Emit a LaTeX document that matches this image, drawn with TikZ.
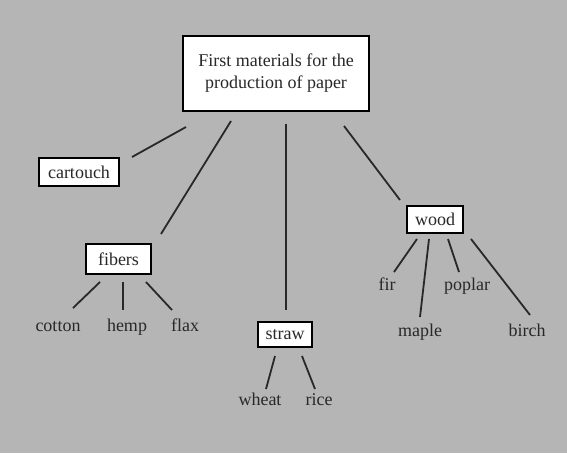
\documentclass[tikz,border=0pt]{standalone}
\usepackage{fontspec}
\setmainfont{Liberation Serif}
\definecolor{bg}{RGB}{181,181,181}
\definecolor{txt}{RGB}{40,40,40}
\begin{document}
\begin{tikzpicture}[x=1pt,y=-1pt,
  box/.style={draw=black, line width=1.8pt, fill=white, inner sep=0pt, align=center, text=txt, font=\fontsize{18}{22}\selectfont},
  lbl/.style={anchor=base, text=txt, inner sep=0pt, font=\fontsize{18}{22}\selectfont},
  conn/.style={line width=1.8pt, draw=txt}]
\fill[bg] (0,0) rectangle (567,453);
\useasboundingbox (0,0) rectangle (567,453);
% boxes
\node[box, minimum width=186pt, minimum height=75pt] (main) at (276,73.5) {First materials for the\\production of paper};
\node[box, minimum width=80pt, minimum height=28pt] (cartouch) at (79,172) {cartouch};
\node[box, minimum width=65pt, minimum height=30pt] (fibers) at (118.5,259) {fibers};
\node[box, minimum width=54pt, minimum height=25pt] (straw) at (285,334.5) {straw};
\node[box, minimum width=56pt, minimum height=27pt] (wood) at (435,219.5) {wood};
% leaf labels
\node[lbl] (cotton) at (58,331) {cotton};
\node[lbl] (hemp) at (127,331) {hemp};
\node[lbl] (flax) at (185,331) {flax};
\node[lbl] (wheat) at (260,405) {wheat};
\node[lbl] (rice) at (319,405) {rice};
\node[lbl] (fir) at (387,290) {fir};
\node[lbl] (poplar) at (467,290) {poplar};
\node[lbl] (maple) at (420,336) {maple};
\node[lbl] (birch) at (527,336) {birch};
% connector end points
\coordinate (mc) at (186,127); \coordinate (cm) at (132,157);
\coordinate (mf) at (231,121); \coordinate (fm) at (161,234);
\coordinate (ms) at (286,124); \coordinate (sm) at (286,310);
\coordinate (mw) at (344,126); \coordinate (wm) at (400,200);
\coordinate (f1) at (100,282); \coordinate (cot) at (73,308);
\coordinate (f2) at (123,282); \coordinate (hem) at (123,310);
\coordinate (f3) at (146,282); \coordinate (fla) at (172,310);
\coordinate (s1) at (275,356); \coordinate (whe) at (266,389);
\coordinate (s2) at (302,356); \coordinate (ric) at (315,389);
\coordinate (w1) at (417,239); \coordinate (fi) at (394,272);
\coordinate (w2) at (429,239); \coordinate (map) at (420,317);
\coordinate (w3) at (448,239); \coordinate (pop) at (459,272);
\coordinate (w4) at (471,239); \coordinate (bir) at (530,315);
% connectors
\draw[conn] (mc) -- (cm);
\draw[conn] (mf) -- (fm);
\draw[conn] (ms) -- (sm);
\draw[conn] (mw) -- (wm);
\draw[conn] (f1) -- (cot);
\draw[conn] (f2) -- (hem);
\draw[conn] (f3) -- (fla);
\draw[conn] (s1) -- (whe);
\draw[conn] (s2) -- (ric);
\draw[conn] (w1) -- (fi);
\draw[conn] (w2) -- (map);
\draw[conn] (w3) -- (pop);
\draw[conn] (w4) -- (bir);
\end{tikzpicture}
\end{document}
